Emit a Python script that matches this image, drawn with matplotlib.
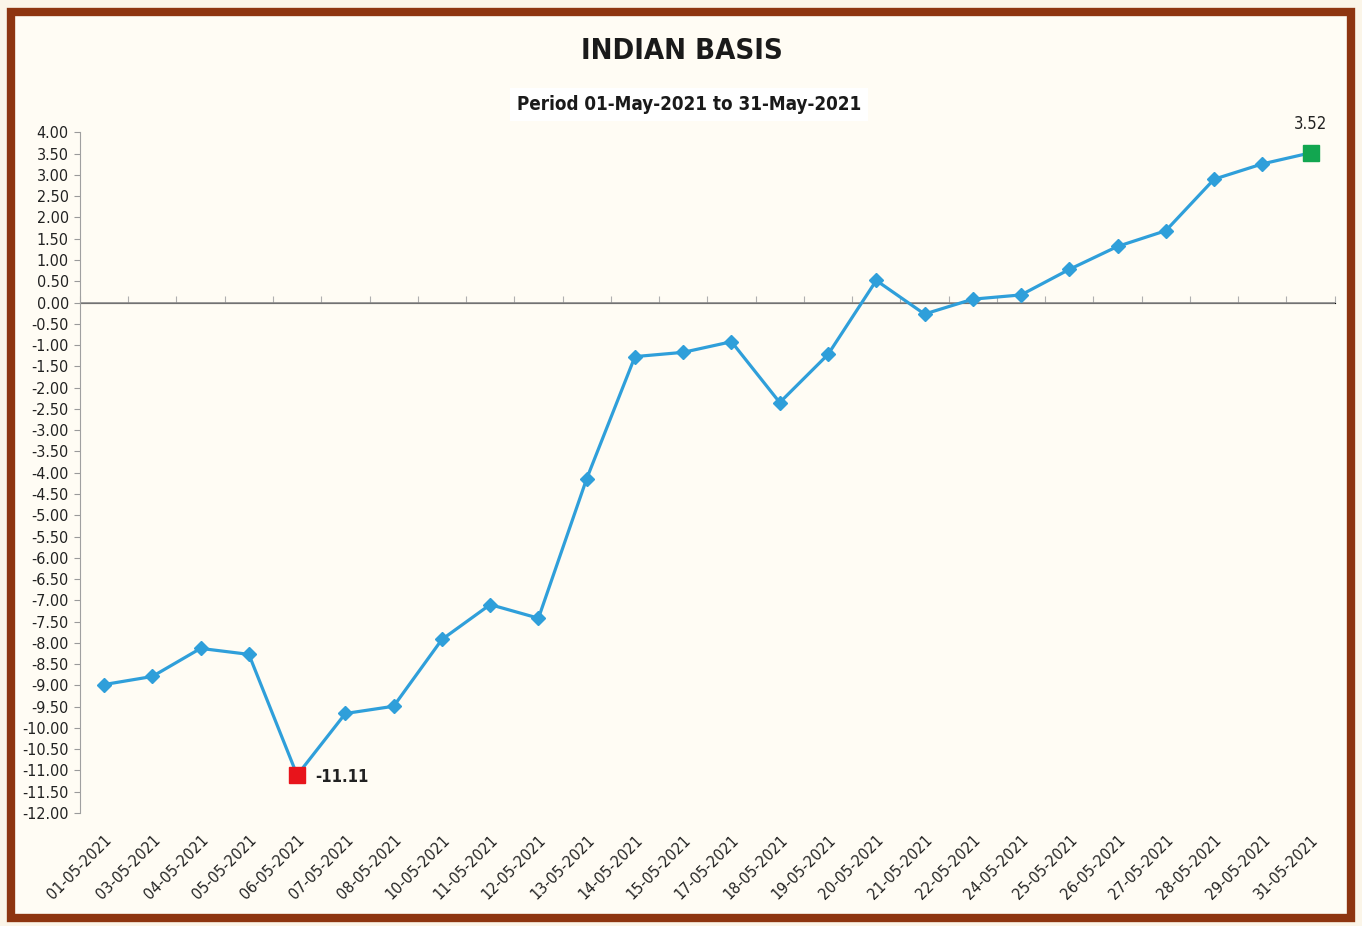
import numpy as np
import matplotlib
matplotlib.use("Agg")
import matplotlib.pyplot as plt
from matplotlib.patches import Rectangle

# ====== Data ======
dates = ["01-05-2021", "03-05-2021", "04-05-2021", "05-05-2021", "06-05-2021",
         "07-05-2021", "08-05-2021", "10-05-2021", "11-05-2021", "12-05-2021",
         "13-05-2021", "14-05-2021", "15-05-2021", "17-05-2021", "18-05-2021",
         "19-05-2021", "20-05-2021", "21-05-2021", "22-05-2021", "24-05-2021",
         "25-05-2021", "26-05-2021", "27-05-2021", "28-05-2021", "29-05-2021",
         "31-05-2021"]
basis = [-8.98, -8.79, -8.13, -8.27, -11.11,
         -9.66, -9.49, -7.92, -7.10, -7.42,
         -4.14, -1.27, -1.17, -0.92, -2.35,
         -1.22, 0.52, -0.27, 0.08, 0.18,
         0.78, 1.32, 1.69, 2.90, 3.26,
         3.52]
y_ticks = np.arange(-12.0, 4.01, 0.5)
# ==================

plt.rcParams['font.family'] = ['DejaVu Sans']
plt.rcParams['font.stretch'] = 'condensed'

LINE_BLUE = "#2F9FDA"
BORDER = "#8E3510"
BG = "#FFFCF4"

fig = plt.figure(figsize=(13.62, 9.26), dpi=100)
fig.patch.set_facecolor("#FBF5E8")

# --- Outer frame (behind the axes) ---
frame = Rectangle((0.008, 0.009), 0.984, 0.978, transform=fig.transFigure,
                  facecolor=BG, edgecolor=BORDER, linewidth=6, zorder=-5)
fig.patches.append(frame)

ax = fig.add_axes([0.0587, 0.122, 0.9213, 0.735])
ax.set_facecolor("none")

x = np.arange(len(dates))
vals = np.array(basis)
ax.plot(x, vals, color=LINE_BLUE, lw=2.3, marker="D", markersize=7,
        markerfacecolor=LINE_BLUE, markeredgecolor=LINE_BLUE, zorder=3)

# min / max highlight
i_min = int(np.argmin(vals))
i_max = int(np.argmax(vals))
ax.plot(x[i_min], vals[i_min], marker="s", markersize=11, color="#E8141B",
        linestyle="none", zorder=4)
ax.plot(x[i_max], vals[i_max], marker="s", markersize=11, color="#12A650",
        linestyle="none", zorder=4)
ax.annotate(f"{vals[i_min]:.2f}", (x[i_min], vals[i_min]), xytext=(13, -1),
            textcoords="offset points", ha="left", va="center",
            fontsize=12, fontweight="bold", color="#222222")
ax.annotate(f"{vals[i_max]:.2f}", (x[i_max], vals[i_max]), xytext=(0, 14),
            textcoords="offset points", ha="center", va="bottom",
            fontsize=12, color="#222222")

# --- Axes ---
ax.set_xlim(-0.5, len(dates) - 0.5)
ax.set_ylim(-12, 4)
ax.set_yticks(y_ticks)
ax.set_yticklabels([f"{v:.2f}" for v in y_ticks], fontsize=11.5, color="#222222")
ax.tick_params(axis="y", length=4, color="#9a9a9a", pad=4)

ax.set_xticks(x)
ax.set_xticklabels(dates, rotation=45, ha="right", va="top",
                   rotation_mode="anchor", fontsize=11.5, color="#222222")
ax.tick_params(axis="x", length=0, pad=14)

for s in ["top", "right", "bottom"]:
    ax.spines[s].set_visible(False)
ax.spines["left"].set_color("#a0a0a0")

# zero line with category boundary ticks
ax.axhline(0, color="#8a8a8a", lw=1.2, zorder=1)
zero_ax = ax.secondary_xaxis(0.75)
zero_ax.set_xticks(np.arange(-0.5, len(dates), 1.0))
zero_ax.set_xticklabels([])
zero_ax.tick_params(length=5, color="#b0b0b0", direction="out")
zero_ax.spines["bottom"].set_visible(False)

# --- Titles ---
fig.text(0.501, 0.945, "INDIAN BASIS", ha="center", va="center",
         fontsize=21, fontweight="bold", color="#1a1a1a")
fig.text(0.506, 0.887, "Period 01-May-2021 to 31-May-2021", ha="center",
         va="center", fontsize=13.5, fontweight="bold", color="#1a1a1a",
         bbox=dict(facecolor="white", edgecolor="none", pad=5))

fig.savefig("out.png", dpi=100, facecolor=fig.get_facecolor())
